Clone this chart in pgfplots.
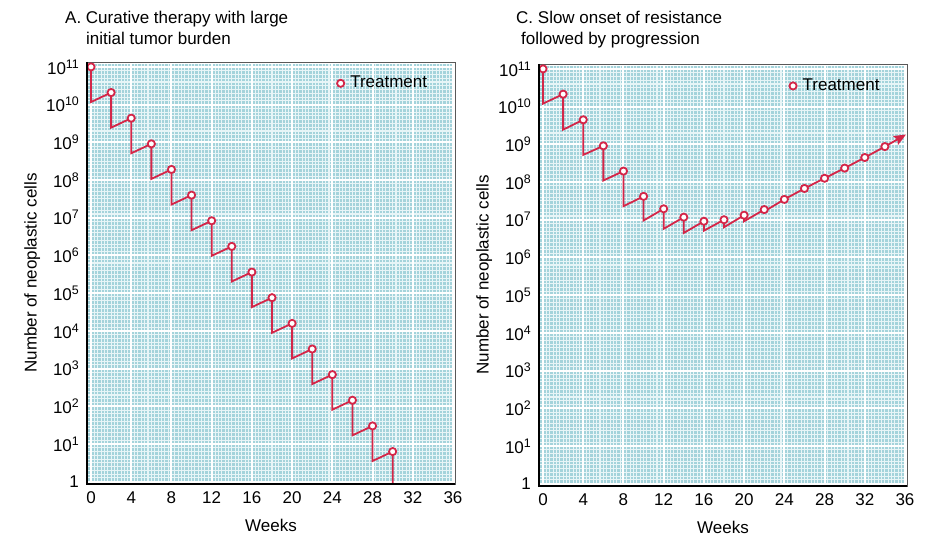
\documentclass[border=0pt]{standalone}
\usepackage{fontspec}
\setmainfont{Liberation Sans}
\usepackage{pgfplots}
\pgfplotsset{compat=1.18}
\usetikzlibrary{arrows.meta,backgrounds}
\definecolor{tred}{RGB}{212,38,72}
\definecolor{gridbg}{RGB}{164,211,219}
\definecolor{gridln}{RGB}{232,245,247}
\newcommand{\fs}{\fontsize{17}{20}\selectfont}
\newcommand{\tp}[1]{10\raisebox{6pt}{\fontsize{12.4}{12.4}\selectfont #1}}
\newcommand{\texture}[2]{%
  \fill[gridbg] (#1pt,{#2pt+3.394pt}) rectangle ({#1pt+364.98pt},{#2pt+419.74pt});
  \foreach \k in {0,...,107} \draw[gridln, line width=1.05pt] ({#1pt+4.02pt+\k*3.3515pt},{#2pt+3.394pt}) -- ++(0,416.35pt);
  \foreach \j in {1,...,110} \draw[gridln, line width=1.05pt] (#1pt,{#2pt+2.263pt+\j*3.7712pt}) -- ++(364.98pt,0);
  \foreach \m in {0,...,8} \draw[white, line width=2pt] ({#1pt+4.02pt+\m*40.218pt},{#2pt+3.394pt}) -- ++(0,416.35pt);
  \foreach \d in {1,...,11} \draw[white, line width=2pt] (#1pt,{#2pt+2.263pt+\d*37.712pt}) -- ++(364.98pt,0);
}
\pgfplotsset{every axis/.append style={
    width=368pt, height=422pt, scale only axis,
    xmin=-0.4, xmax=36.2, ymin=0.870964, ymax=1.348963e11,
    xtick={0,4,8,12,16,20,24,28,32,36},
    xticklabels={0,4,8,12,16,20,24,28,32,36},
    ytick={1,10,100,1e3,1e4,1e5,1e6,1e7,1e8,1e9,1e10,1e11},
    yticklabels={1,\tp{1},\tp{2},\tp{3},\tp{4},\tp{5},\tp{6},\tp{7},\tp{8},\tp{9},\tp{10},\tp{11}},
    major tick length=0pt, minor tick length=0pt,
    axis line style={draw=black!65, line width=0.8pt},
    tick label style={font=\fs},
    xticklabel style={yshift=-1.7pt},
    yticklabel style={xshift=-2.3pt},
    label style={font=\fs},
    xlabel={Weeks}, ylabel={Number of neoplastic cells},
    xlabel style={at={(axis description cs:0.5,-0.097)}, anchor=center},
    ylabel style={at={(axis description cs:-0.149,0.5)}, anchor=center},
    legend style={draw=none, fill=none, font=\fs, inner sep=0pt, anchor=west, column sep=4pt},
    legend cell align=left,
}}
\begin{document}
\fs
\begin{tikzpicture}
\path[use as bounding box] (0pt,0pt) rectangle (931pt,535pt);

% Panel A
\begin{semilogyaxis}[name=L, at={(87pt,51pt)}, anchor=south west,
  legend style={at={(axis description cs:0.679,0.9495)}}]
\addplot[tred, line width=1.8pt, forget plot] coordinates {
 (0,1e11) (0,1.17e10) (2,2.09e10) (2,2.45e9) (4,4.37e9) (4,5.13e8)
 (6,9.12e8) (6,1.07e8) (8,1.91e8) (8,2.24e7) (10,3.98e7) (10,4.68e6)
 (12,8.32e6) (12,9.77e5) (14,1.74e6) (14,2.04e5) (16,3.63e5) (16,4.27e4)
 (18,7.59e4) (18,8.91e3) (20,1.58e4) (20,1.86e3) (22,3.31e3) (22,389)
 (24,692) (24,81.3) (26,145) (26,17.0) (28,30.2) (28,3.55) (30,6.31) (30,0.5)};
\addplot[only marks, mark=*, mark size=3.6pt, mark options={draw=tred, fill=white, line width=1.8pt}] coordinates {
 (0,1e11) (2,2.09e10) (4,4.37e9) (6,9.12e8) (8,1.91e8) (10,3.98e7)
 (12,8.32e6) (14,1.74e6) (16,3.63e5) (18,7.59e4) (20,1.58e4) (22,3.31e3)
 (24,692) (26,145) (28,30.2) (30,6.31)};
\addlegendentry{Treatment}
\end{semilogyaxis}

% Panel C
\begin{semilogyaxis}[name=R, at={(539pt,49pt)}, anchor=south west,
  legend style={at={(axis description cs:0.680,0.948)}}]
\addplot[tred, line width=1.8pt, forget plot, -{Stealth[length=12pt,width=10pt,inset=2pt]}] coordinates {
 (0,1e11) (0,1.20e10) (2,2.14e10) (2,2.45e9) (4,4.47e9) (4,5.25e8)
 (6,9.12e8) (6,1.10e8) (8,1.95e8) (8,2.29e7) (10,4.17e7) (10,9.55e6)
 (12,1.95e7) (12,5.75e6) (14,1.17e7) (14,4.47e6) (16,9.12e6) (16,5.13e6)
 (18,1e7) (18,6.31e6) (20,1.32e7) (20,9.12e6) (22,1.86e7) (22,1.66e7)
 (24,3.47e7) (26,6.76e7) (28,1.26e8) (30,2.34e8) (32,4.47e8) (34,8.71e8)
 (36.1,1.82e9)};
\addplot[only marks, mark=*, mark size=3.6pt, mark options={draw=tred, fill=white, line width=1.8pt}] coordinates {
 (0,1e11) (2,2.14e10) (4,4.47e9) (6,9.12e8) (8,1.95e8) (10,4.17e7)
 (12,1.95e7) (14,1.17e7) (16,9.12e6) (18,1e7) (20,1.32e7) (22,1.86e7)
 (24,3.47e7) (26,6.76e7) (28,1.26e8) (30,2.34e8) (32,4.47e8) (34,8.71e8)};
\addlegendentry{Treatment}
\end{semilogyaxis}

\draw[black, line width=1.4pt] (L.north west) -- (L.south west) -- (L.south east);
\draw[black, line width=1.4pt] (R.north west) -- (R.south west) -- (R.south east);

\begin{scope}[on background layer]
\texture{87}{51}
\texture{539}{49}
\end{scope}

\node[anchor=base west, font=\fs, inner sep=0pt] at (65pt,511.5pt) {A. Curative therapy with large};
\node[anchor=base west, font=\fs, inner sep=0pt] at (86pt,490pt) {initial tumor burden};
\node[anchor=base west, font=\fs, inner sep=0pt] at (516pt,511pt) {C. Slow onset of resistance};
\node[anchor=base west, font=\fs, inner sep=0pt] at (521pt,490pt) {followed by progression};
\end{tikzpicture}
\end{document}
